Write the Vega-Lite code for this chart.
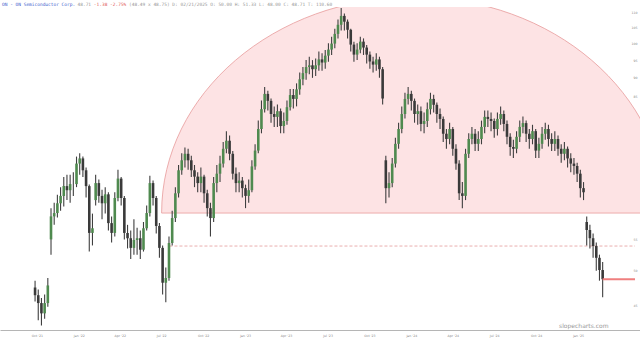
{
"$schema": "https://vega.github.io/schema/vega-lite/v6.json",
"width": 640, "height": 323,
"autosize": {"type": "none"},
"padding": {"left": 0, "top": 7, "right": 0, "bottom": 11},
"background": "white",
"config": {"view": {"stroke": null}},
"title": {
  "text": "ON - ON Semiconductor Corp.",
  "anchor": "start", "offset": 0, "dx": 2, "dy": 5,
  "font": "DejaVu Sans Mono", "fontSize": 4.5, "fontWeight": "normal", "color": "#3b5bcc"
},
"resolve": {"axis": {"x": "independent"}},
"datasets": {
  "arc": [{"d": "2024-01-06", "p": 59.6}],
  "dash": [{"d1": "2022-07-19", "d2": "2025-05-06", "p": 53.9}],
  "last": [{"d1": "2025-02-24", "d2": "2025-05-06", "p": 48.71}],
  "bars": [
{"d":"2021-09-27","o":47.5,"h":48.5,"l":45.5,"c":46.4},
{"d":"2021-10-04","o":46.4,"h":47.2,"l":43.0,"c":45.3},
{"d":"2021-10-11","o":45.3,"h":46.0,"l":42.3,"c":43.9},
{"d":"2021-10-18","o":43.9,"h":46.5,"l":43.2,"c":45.3},
{"d":"2021-10-25","o":45.3,"h":48.9,"l":44.8,"c":47.8},
{"d":"2021-11-01","o":55.0,"h":60.5,"l":52.5,"c":59.0},
{"d":"2021-11-08","o":59.0,"h":61.5,"l":57.5,"c":59.6},
{"d":"2021-11-15","o":59.6,"h":63.0,"l":58.8,"c":61.4},
{"d":"2021-11-22","o":61.4,"h":64.5,"l":60.0,"c":62.8},
{"d":"2021-11-29","o":62.8,"h":66.5,"l":60.8,"c":64.7},
{"d":"2021-12-06","o":64.7,"h":67.0,"l":62.0,"c":63.9},
{"d":"2021-12-13","o":63.9,"h":67.0,"l":61.5,"c":65.1},
{"d":"2021-12-20","o":65.1,"h":67.5,"l":62.8,"c":65.1},
{"d":"2021-12-27","o":65.1,"h":70.8,"l":64.5,"c":69.3},
{"d":"2022-01-03","o":69.3,"h":71.5,"l":67.0,"c":70.4},
{"d":"2022-01-10","o":70.4,"h":70.8,"l":66.5,"c":67.9},
{"d":"2022-01-17","o":67.9,"h":68.5,"l":62.5,"c":64.7},
{"d":"2022-01-24","o":64.7,"h":65.0,"l":53.0,"c":56.1},
{"d":"2022-01-31","o":56.1,"h":59.5,"l":54.0,"c":56.9},
{"d":"2022-02-07","o":62.0,"h":67.0,"l":61.0,"c":65.3},
{"d":"2022-02-14","o":65.3,"h":66.0,"l":61.5,"c":62.8},
{"d":"2022-02-21","o":62.8,"h":64.0,"l":58.5,"c":61.4},
{"d":"2022-02-28","o":61.4,"h":64.5,"l":59.5,"c":63.1},
{"d":"2022-03-07","o":63.1,"h":63.5,"l":56.5,"c":57.8},
{"d":"2022-03-14","o":57.8,"h":59.0,"l":54.5,"c":56.1},
{"d":"2022-03-21","o":56.1,"h":63.5,"l":55.5,"c":62.4},
{"d":"2022-03-28","o":62.4,"h":68.0,"l":61.8,"c":66.2},
{"d":"2022-04-04","o":66.2,"h":66.5,"l":61.0,"c":62.4},
{"d":"2022-04-11","o":62.4,"h":62.8,"l":55.0,"c":56.1},
{"d":"2022-04-18","o":56.1,"h":57.5,"l":53.5,"c":55.2},
{"d":"2022-04-25","o":55.2,"h":56.5,"l":51.8,"c":53.6},
{"d":"2022-05-02","o":53.6,"h":58.5,"l":52.5,"c":54.9},
{"d":"2022-05-09","o":54.9,"h":57.0,"l":52.5,"c":55.2},
{"d":"2022-05-16","o":55.2,"h":56.5,"l":51.8,"c":53.3},
{"d":"2022-05-23","o":53.3,"h":58.0,"l":53.0,"c":56.9},
{"d":"2022-05-30","o":56.9,"h":61.0,"l":56.5,"c":59.6},
{"d":"2022-06-06","o":59.6,"h":66.8,"l":59.0,"c":65.3},
{"d":"2022-06-13","o":65.3,"h":65.8,"l":61.0,"c":62.4},
{"d":"2022-06-20","o":62.4,"h":62.8,"l":56.0,"c":57.3},
{"d":"2022-06-27","o":57.3,"h":57.8,"l":52.0,"c":53.6},
{"d":"2022-07-04","o":53.6,"h":54.0,"l":46.5,"c":48.2},
{"d":"2022-07-11","o":48.2,"h":50.5,"l":45.4,"c":48.9},
{"d":"2022-07-18","o":48.9,"h":55.5,"l":48.5,"c":54.4},
{"d":"2022-07-25","o":54.4,"h":60.0,"l":54.0,"c":58.7},
{"d":"2022-08-01","o":58.7,"h":64.5,"l":58.0,"c":63.3},
{"d":"2022-08-08","o":63.3,"h":69.0,"l":62.5,"c":67.9},
{"d":"2022-08-15","o":67.9,"h":71.5,"l":67.0,"c":70.0},
{"d":"2022-08-22","o":70.0,"h":72.8,"l":68.5,"c":71.4},
{"d":"2022-08-29","o":71.4,"h":72.5,"l":68.0,"c":70.0},
{"d":"2022-09-05","o":70.0,"h":71.0,"l":66.5,"c":67.9},
{"d":"2022-09-12","o":67.9,"h":69.0,"l":64.5,"c":66.6},
{"d":"2022-09-19","o":66.6,"h":67.5,"l":63.5,"c":65.3},
{"d":"2022-09-26","o":65.3,"h":68.5,"l":63.5,"c":66.6},
{"d":"2022-10-03","o":66.6,"h":67.0,"l":61.5,"c":63.3},
{"d":"2022-10-10","o":63.3,"h":64.0,"l":59.0,"c":60.5},
{"d":"2022-10-17","o":60.5,"h":61.5,"l":55.5,"c":58.7},
{"d":"2022-10-24","o":58.7,"h":66.5,"l":58.0,"c":65.3},
{"d":"2022-10-31","o":65.3,"h":69.0,"l":63.5,"c":67.2},
{"d":"2022-11-07","o":67.2,"h":71.0,"l":65.5,"c":69.3},
{"d":"2022-11-14","o":69.3,"h":74.0,"l":68.5,"c":72.5},
{"d":"2022-11-21","o":72.5,"h":76.5,"l":71.5,"c":74.3},
{"d":"2022-11-28","o":74.3,"h":75.5,"l":70.0,"c":71.4},
{"d":"2022-12-05","o":71.4,"h":72.0,"l":66.0,"c":67.2},
{"d":"2022-12-12","o":67.2,"h":68.5,"l":63.5,"c":65.3},
{"d":"2022-12-19","o":65.3,"h":67.5,"l":63.5,"c":65.8},
{"d":"2022-12-26","o":65.8,"h":66.5,"l":62.5,"c":64.3},
{"d":"2023-01-02","o":64.3,"h":65.0,"l":60.5,"c":62.8},
{"d":"2023-01-09","o":62.8,"h":66.0,"l":61.5,"c":63.9},
{"d":"2023-01-16","o":63.9,"h":70.0,"l":63.5,"c":68.7},
{"d":"2023-01-23","o":68.7,"h":73.5,"l":68.0,"c":72.1},
{"d":"2023-01-30","o":72.1,"h":79.0,"l":71.5,"c":77.0},
{"d":"2023-02-06","o":77.0,"h":84.0,"l":76.0,"c":81.8},
{"d":"2023-02-13","o":81.8,"h":87.5,"l":81.0,"c":85.7},
{"d":"2023-02-20","o":85.7,"h":86.5,"l":81.5,"c":83.9},
{"d":"2023-02-27","o":83.9,"h":84.5,"l":78.5,"c":80.6},
{"d":"2023-03-06","o":80.6,"h":82.5,"l":77.5,"c":79.9},
{"d":"2023-03-13","o":79.9,"h":83.0,"l":77.5,"c":81.3},
{"d":"2023-03-20","o":81.3,"h":82.0,"l":76.0,"c":77.7},
{"d":"2023-03-27","o":77.7,"h":81.0,"l":76.0,"c":78.9},
{"d":"2023-04-03","o":78.9,"h":84.0,"l":78.0,"c":82.3},
{"d":"2023-04-10","o":82.3,"h":87.0,"l":81.5,"c":85.4},
{"d":"2023-04-17","o":85.4,"h":87.0,"l":82.0,"c":84.4},
{"d":"2023-04-24","o":84.4,"h":88.5,"l":82.5,"c":86.9},
{"d":"2023-05-01","o":86.9,"h":91.5,"l":85.5,"c":89.6},
{"d":"2023-05-08","o":89.6,"h":93.0,"l":88.0,"c":91.3},
{"d":"2023-05-15","o":91.3,"h":95.0,"l":89.5,"c":93.0},
{"d":"2023-05-22","o":93.0,"h":96.0,"l":91.0,"c":93.5},
{"d":"2023-05-29","o":93.5,"h":95.0,"l":90.0,"c":92.4},
{"d":"2023-06-05","o":92.4,"h":95.5,"l":90.5,"c":93.5},
{"d":"2023-06-12","o":93.5,"h":97.5,"l":92.0,"c":95.2},
{"d":"2023-06-19","o":95.2,"h":97.0,"l":92.0,"c":94.3},
{"d":"2023-06-26","o":94.3,"h":98.0,"l":92.5,"c":96.3},
{"d":"2023-07-03","o":96.3,"h":100.0,"l":94.5,"c":98.1},
{"d":"2023-07-10","o":98.1,"h":102.0,"l":96.5,"c":99.9},
{"d":"2023-07-17","o":99.9,"h":104.5,"l":98.5,"c":102.9},
{"d":"2023-07-24","o":102.9,"h":107.5,"l":101.5,"c":105.8},
{"d":"2023-07-31","o":105.8,"h":111.35,"l":104.0,"c":108.7},
{"d":"2023-08-07","o":108.7,"h":109.5,"l":104.0,"c":106.8},
{"d":"2023-08-14","o":106.8,"h":107.5,"l":101.5,"c":104.2},
{"d":"2023-08-21","o":104.2,"h":104.5,"l":97.5,"c":99.6},
{"d":"2023-08-28","o":99.6,"h":100.5,"l":94.5,"c":96.6},
{"d":"2023-09-04","o":96.6,"h":100.0,"l":95.0,"c":98.1},
{"d":"2023-09-11","o":98.1,"h":102.0,"l":97.0,"c":100.5},
{"d":"2023-09-18","o":100.5,"h":101.5,"l":96.5,"c":98.7},
{"d":"2023-09-25","o":98.7,"h":99.5,"l":94.0,"c":96.6},
{"d":"2023-10-02","o":96.6,"h":97.5,"l":92.5,"c":94.6},
{"d":"2023-10-09","o":94.6,"h":96.0,"l":91.5,"c":93.7},
{"d":"2023-10-16","o":93.7,"h":97.0,"l":92.0,"c":95.2},
{"d":"2023-10-23","o":95.2,"h":96.0,"l":90.0,"c":92.4},
{"d":"2023-10-30","o":92.4,"h":93.0,"l":83.0,"c":84.5},
{"d":"2023-11-06","o":70.0,"h":71.0,"l":61.4,"c":64.3},
{"d":"2023-11-13","o":64.3,"h":67.5,"l":62.5,"c":65.3},
{"d":"2023-11-20","o":65.3,"h":70.5,"l":64.5,"c":69.3},
{"d":"2023-11-27","o":69.3,"h":75.0,"l":68.5,"c":73.6},
{"d":"2023-12-04","o":73.6,"h":78.5,"l":72.5,"c":77.0},
{"d":"2023-12-11","o":77.0,"h":82.5,"l":76.0,"c":80.6},
{"d":"2023-12-18","o":80.6,"h":86.0,"l":79.5,"c":84.4},
{"d":"2023-12-25","o":84.4,"h":87.5,"l":83.0,"c":85.7},
{"d":"2024-01-01","o":85.7,"h":86.5,"l":81.5,"c":83.9},
{"d":"2024-01-08","o":83.9,"h":84.5,"l":78.5,"c":80.6},
{"d":"2024-01-15","o":80.6,"h":83.0,"l":78.0,"c":81.3},
{"d":"2024-01-22","o":81.3,"h":82.5,"l":76.5,"c":78.2},
{"d":"2024-01-29","o":78.2,"h":81.0,"l":76.0,"c":78.9},
{"d":"2024-02-05","o":78.9,"h":83.5,"l":77.5,"c":81.8},
{"d":"2024-02-12","o":81.8,"h":86.0,"l":80.5,"c":84.4},
{"d":"2024-02-19","o":84.4,"h":85.5,"l":81.0,"c":82.9},
{"d":"2024-02-26","o":82.9,"h":83.5,"l":78.5,"c":80.6},
{"d":"2024-03-04","o":80.6,"h":82.0,"l":77.0,"c":79.4},
{"d":"2024-03-11","o":79.4,"h":80.0,"l":74.0,"c":75.9},
{"d":"2024-03-18","o":75.9,"h":77.0,"l":72.5,"c":74.7},
{"d":"2024-03-25","o":74.7,"h":78.5,"l":73.5,"c":77.0},
{"d":"2024-04-01","o":77.0,"h":77.5,"l":71.0,"c":72.5},
{"d":"2024-04-08","o":72.5,"h":73.5,"l":68.0,"c":69.3},
{"d":"2024-04-15","o":69.3,"h":70.0,"l":62.0,"c":63.3},
{"d":"2024-04-22","o":63.3,"h":65.5,"l":60.5,"c":62.8},
{"d":"2024-04-29","o":62.8,"h":72.5,"l":62.0,"c":71.4},
{"d":"2024-05-06","o":71.4,"h":76.0,"l":70.5,"c":74.7},
{"d":"2024-05-13","o":74.7,"h":77.5,"l":73.5,"c":75.9},
{"d":"2024-05-20","o":75.9,"h":77.0,"l":72.0,"c":73.6},
{"d":"2024-05-27","o":73.6,"h":76.5,"l":72.0,"c":74.7},
{"d":"2024-06-03","o":74.7,"h":79.0,"l":73.5,"c":77.5},
{"d":"2024-06-10","o":77.5,"h":81.5,"l":76.0,"c":79.9},
{"d":"2024-06-17","o":79.9,"h":81.5,"l":77.5,"c":79.4},
{"d":"2024-06-24","o":79.4,"h":81.0,"l":76.5,"c":78.9},
{"d":"2024-07-01","o":78.9,"h":79.5,"l":75.0,"c":77.0},
{"d":"2024-07-08","o":77.0,"h":81.0,"l":75.5,"c":79.4},
{"d":"2024-07-15","o":79.4,"h":82.5,"l":78.0,"c":80.6},
{"d":"2024-07-22","o":80.6,"h":81.5,"l":76.5,"c":78.2},
{"d":"2024-07-29","o":78.2,"h":79.0,"l":73.5,"c":75.2},
{"d":"2024-08-05","o":75.2,"h":76.0,"l":71.0,"c":72.9},
{"d":"2024-08-12","o":72.9,"h":74.5,"l":70.5,"c":72.5},
{"d":"2024-08-19","o":72.5,"h":76.5,"l":71.5,"c":75.2},
{"d":"2024-08-26","o":75.2,"h":79.0,"l":74.0,"c":77.5},
{"d":"2024-09-02","o":77.5,"h":80.0,"l":76.0,"c":78.4},
{"d":"2024-09-09","o":78.4,"h":79.0,"l":74.0,"c":75.9},
{"d":"2024-09-16","o":75.9,"h":77.0,"l":72.5,"c":74.7},
{"d":"2024-09-23","o":74.7,"h":78.0,"l":73.5,"c":76.5},
{"d":"2024-09-30","o":76.5,"h":77.0,"l":70.5,"c":72.1},
{"d":"2024-10-07","o":72.1,"h":75.0,"l":70.5,"c":73.6},
{"d":"2024-10-14","o":73.6,"h":77.5,"l":72.5,"c":75.9},
{"d":"2024-10-21","o":75.9,"h":78.5,"l":74.5,"c":77.0},
{"d":"2024-10-28","o":77.0,"h":78.0,"l":73.0,"c":74.7},
{"d":"2024-11-04","o":74.7,"h":76.0,"l":72.0,"c":73.6},
{"d":"2024-11-11","o":73.6,"h":76.5,"l":72.0,"c":74.7},
{"d":"2024-11-18","o":74.7,"h":75.5,"l":71.0,"c":72.5},
{"d":"2024-11-25","o":72.5,"h":73.5,"l":69.5,"c":71.4},
{"d":"2024-12-02","o":71.4,"h":74.0,"l":70.0,"c":72.5},
{"d":"2024-12-09","o":72.5,"h":73.0,"l":68.5,"c":70.4},
{"d":"2024-12-16","o":70.4,"h":71.5,"l":67.5,"c":69.3},
{"d":"2024-12-23","o":69.3,"h":70.5,"l":67.0,"c":68.8},
{"d":"2024-12-30","o":68.8,"h":69.5,"l":65.5,"c":67.2},
{"d":"2025-01-06","o":67.2,"h":68.0,"l":62.5,"c":64.3},
{"d":"2025-01-13","o":64.3,"h":65.5,"l":62.0,"c":63.5},
{"d":"2025-01-20","o":58.0,"h":59.0,"l":54.0,"c":56.6},
{"d":"2025-01-27","o":56.6,"h":57.5,"l":53.5,"c":55.2},
{"d":"2025-02-03","o":55.2,"h":56.0,"l":52.0,"c":53.9},
{"d":"2025-02-10","o":53.9,"h":54.5,"l":50.0,"c":52.0},
{"d":"2025-02-17","o":52.0,"h":52.5,"l":48.5,"c":50.1},
{"d":"2025-02-24","o":50.1,"h":51.33,"l":46.1,"c":48.71}
  ]
},
"layer": [
  {
    "data": {"name": "arc"},
    "mark": {"type": "point", "shape": "M-1,0A1,0.857,0,0,1,1,0Z", "size": 254016, "filled": true, "fill": "#fde3e4", "stroke": "#e79b9b", "strokeWidth": 0.8, "opacity": 1, "clip": true},
    "encoding": {
      "x": {"field": "d", "type": "temporal",
        "scale": {"domain": [{"year": 2021, "month": 7, "date": 23}, {"year": 2025, "month": 5, "date": 6}]},
        "axis": {
          "orient": "bottom",
          "values": [{"year": 2021, "month": 10, "date": 1}, {"year": 2022, "month": 1, "date": 1}, {"year": 2022, "month": 4, "date": 1}, {"year": 2022, "month": 7, "date": 1}, {"year": 2022, "month": 10, "date": 1}, {"year": 2023, "month": 1, "date": 1}, {"year": 2023, "month": 4, "date": 1}, {"year": 2023, "month": 7, "date": 1}, {"year": 2023, "month": 10, "date": 1}, {"year": 2024, "month": 1, "date": 1}, {"year": 2024, "month": 4, "date": 1}, {"year": 2024, "month": 7, "date": 1}, {"year": 2024, "month": 10, "date": 1}, {"year": 2025, "month": 1, "date": 1}],
          "format": "%b '%y", "labelFont": "DejaVu Sans", "labelFontSize": 3.2, "labelColor": "#888888", "labelPadding": 3, "labelOverlap": false,
          "ticks": false, "tickSize": 0, "grid": false, "domainColor": "#b5b5b5", "domainWidth": 1,
          "title": "slopecharts.com", "titleFont": "DejaVu Sans", "titleFontSize": 6, "titleFontWeight": "normal", "titleColor": "#999999",
          "titleX": 608, "titleY": -2.5, "titleAlign": "right", "titleBaseline": "alphabetic"
        }
      },
      "y": {"field": "p", "type": "quantitative",
        "scale": {"type": "log", "domain": [41.73, 111.69], "nice": false, "zero": false},
        "axis": {"orient": "right", "values": [45, 50, 55, 60, 65, 70, 75, 80, 85, 90, 95, 100, 105, 110], "format": "d", "offset": -3, "ticks": false, "tickSize": 0, "domain": false, "grid": false, "labelPadding": 0, "labelAlign": "right", "labelFont": "DejaVu Sans", "labelFontSize": 3.2, "labelColor": "#888888", "labelOverlap": false, "title": null}
      }
    }
  },
  {
    "data": {"name": "dash"},
    "mark": {"type": "rule", "color": "#e59a9a", "strokeWidth": 0.8, "strokeDash": [3, 2]},
    "encoding": {
      "x": {"field": "d1", "type": "temporal",
        "scale": {"domain": [{"year": 2021, "month": 7, "date": 23}, {"year": 2025, "month": 5, "date": 6}]},
        "axis": {"orient": "top", "labels": false, "ticks": false, "domain": false, "grid": false,
          "title": "48.71",
          "titleFont": "DejaVu Sans Mono", "titleFontSize": 4.5, "titleFontWeight": "normal", "titleColor": "#999999",
          "titleX": 77, "titleY": -1.5, "titleAlign": "left", "titleBaseline": "alphabetic"}
      },
      "x2": {"field": "d2"},
      "y": {"field": "p", "type": "quantitative", "scale": {"type": "log", "domain": [41.73, 111.69], "nice": false, "zero": false}}
    }
  },
  {
    "data": {"name": "bars"},
    "mark": {"type": "rule", "color": "#3f3f3f", "strokeWidth": 1.1},
    "encoding": {
      "x": {"field": "d", "type": "temporal", "scale": {"domain": [{"year": 2021, "month": 7, "date": 23}, {"year": 2025, "month": 5, "date": 6}]},
        "axis": {"orient": "top", "labels": false, "ticks": false, "domain": false, "grid": false,
          "title": "(48.49 x 48.75) D: 02/21/2025 O: 50.00 H: 51.33 L: 48.00 C: 48.71 T: 110.60",
          "titleFont": "DejaVu Sans Mono", "titleFontSize": 4.5, "titleFontWeight": "normal", "titleColor": "#999999",
          "titleX": 128.5, "titleY": -1.5, "titleAlign": "left", "titleBaseline": "alphabetic"}
      },
      "y": {"field": "l", "type": "quantitative", "scale": {"type": "log", "domain": [41.73, 111.69], "nice": false, "zero": false}},
      "y2": {"field": "h"}
    }
  },
  {
    "data": {"name": "bars"},
    "mark": {"type": "bar", "width": 2.6},
    "encoding": {
      "x": {"field": "d", "type": "temporal", "scale": {"domain": [{"year": 2021, "month": 7, "date": 23}, {"year": 2025, "month": 5, "date": 6}]}, "axis": null},
      "y": {"field": "o", "type": "quantitative", "scale": {"type": "log", "domain": [41.73, 111.69], "nice": false, "zero": false}},
      "y2": {"field": "c"},
      "color": {"condition": {"test": "datum.c >= datum.o", "value": "#4f8a4f"}, "value": "#3a3a3a"}
    }
  },
  {
    "data": {"name": "last"},
    "mark": {"type": "rule", "color": "#ef7f7f", "strokeWidth": 2},
    "encoding": {
      "x": {"field": "d1", "type": "temporal", "scale": {"domain": [{"year": 2021, "month": 7, "date": 23}, {"year": 2025, "month": 5, "date": 6}]},
        "axis": {"orient": "top", "labels": false, "ticks": false, "domain": false, "grid": false,
          "title": "-1.38 -2.75%",
          "titleFont": "DejaVu Sans Mono", "titleFontSize": 4.5, "titleFontWeight": "normal", "titleColor": "#e05a5a",
          "titleX": 93.3, "titleY": -1.5, "titleAlign": "left", "titleBaseline": "alphabetic"}
      },
      "x2": {"field": "d2"},
      "y": {"field": "p", "type": "quantitative", "scale": {"type": "log", "domain": [41.73, 111.69], "nice": false, "zero": false}}
    }
  }
]
}
